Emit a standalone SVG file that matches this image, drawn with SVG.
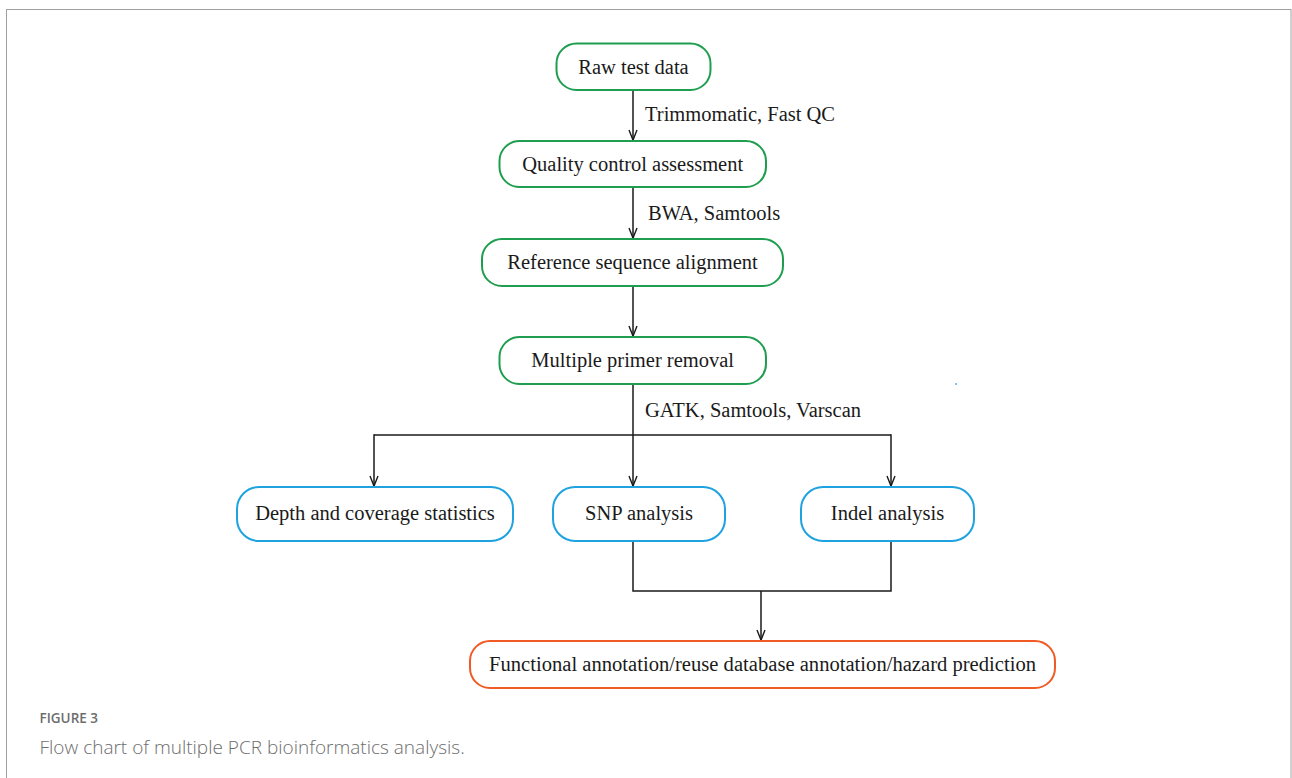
<svg xmlns="http://www.w3.org/2000/svg" width="1292" height="778" viewBox="0 0 1292 778">
  <defs>
    <marker id="arr" markerUnits="userSpaceOnUse" markerWidth="12" markerHeight="10" refX="0" refY="0" orient="auto" overflow="visible">
      <path d="M-10,-4 L0,0 L-10,4" fill="none" stroke="#1a1a1a" stroke-width="1.4"/>
    </marker>
  </defs>
  <style>
    .node rect { fill: #ffffff; stroke-width: 2; }
    .g rect { stroke: #1f9e4f; }
    .b rect { stroke: #1fa3e0; }
    .o rect { stroke: #f05a24; }
    .node text, .lbl { font-family: "Liberation Serif", "Times New Roman", serif; font-size: 20.5px; fill: #1a1a1a; }
    .node text { text-anchor: middle; }
    .conn path, .conn line { fill: none; stroke: #1a1a1a; stroke-width: 1.5; }
    .cap1 { font-family: "Open Sans", "Noto Sans", sans-serif; font-size: 13.5px; font-weight: 600; fill: #6d6d6d; }
    .cap2 { font-family: "Open Sans", "Noto Sans", sans-serif; font-size: 19px; font-weight: 300; fill: #6d6d6d; }
  </style>

  <rect x="6.5" y="9.5" width="1284.5" height="800" fill="none" stroke="#a0a0a0" stroke-width="1"/>

  <g class="conn" id="connectors">
    <line x1="633" y1="90" x2="633" y2="140" marker-end="url(#arr)"/>
    <line x1="633" y1="187" x2="633" y2="238" marker-end="url(#arr)"/>
    <line x1="633" y1="286" x2="633" y2="336" marker-end="url(#arr)"/>
    <line x1="633" y1="384" x2="633" y2="486" marker-end="url(#arr)"/>
    <line x1="374" y1="435" x2="891" y2="435"/>
    <line x1="374" y1="434.25" x2="374" y2="486" marker-end="url(#arr)"/>
    <line x1="891" y1="434.25" x2="891" y2="486" marker-end="url(#arr)"/>
    <path d="M633,541 L633,591 L891,591 L891,541"/>
    <line x1="761" y1="591" x2="761" y2="640" marker-end="url(#arr)"/>
  </g>
  <g id="edge-labels">
    <text class="lbl" x="645" y="121">Trimmomatic, Fast QC</text>
    <text class="lbl" x="648" y="220">BWA, Samtools</text>
    <text class="lbl" x="645" y="417">GATK, Samtools, Varscan</text>
  </g>

  <g id="raw" class="node g">
    <rect x="556.5" y="43.5" width="154" height="46.5" rx="20"/>
    <text x="633.5" y="73.5">Raw test data</text>
  </g>
  <g id="qc" class="node g">
    <rect x="499.5" y="141" width="266.5" height="46" rx="20"/>
    <text x="632.7" y="171">Quality control assessment</text>
  </g>
  <g id="ref" class="node g">
    <rect x="482" y="239" width="301" height="47" rx="20"/>
    <text x="632.5" y="269">Reference sequence alignment</text>
  </g>
  <g id="primer" class="node g">
    <rect x="499.5" y="337" width="266.5" height="47" rx="20"/>
    <text x="632.7" y="367">Multiple primer removal</text>
  </g>
  <g id="depth" class="node b">
    <rect x="237" y="487" width="276" height="54" rx="22"/>
    <text x="375" y="520">Depth and coverage statistics</text>
  </g>
  <g id="snp" class="node b">
    <rect x="553" y="487" width="172" height="54" rx="22"/>
    <text x="639" y="520">SNP analysis</text>
  </g>
  <g id="indel" class="node b">
    <rect x="801" y="487" width="173" height="54" rx="22"/>
    <text x="887.5" y="520">Indel analysis</text>
  </g>
  <g id="func" class="node o">
    <rect x="470" y="641" width="585" height="47" rx="20"/>
    <text x="762.5" y="671" textLength="547" lengthAdjust="spacingAndGlyphs">Functional annotation/reuse database annotation/hazard prediction</text>
  </g>

  <rect x="955.5" y="383" width="1.2" height="2" fill="#1fa3e0"/>

  <text class="cap1" x="39.5" y="723">FIGURE 3</text>
  <text class="cap2" x="39.5" y="754">Flow chart of multiple PCR bioinformatics analysis.</text>
</svg>
